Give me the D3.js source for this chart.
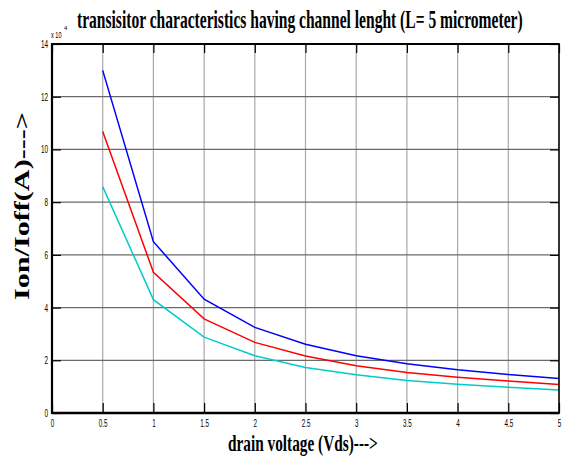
<!DOCTYPE html>
<html>
<head>
<meta charset="utf-8">
<script src="https://cdn.jsdelivr.net/npm/d3@7"></script>
<style>
  html, body { margin: 0; padding: 0; background: #fff; }
  svg { display: block; }
</style>
</head>
<body>
<script>
// ---- data ----
const vds = [0.5, 1, 1.5, 2, 2.5, 3, 3.5, 4, 4.5, 5];
const blueSeries = [13.0, 6.5, 4.32, 3.25, 2.61, 2.17, 1.87, 1.64, 1.46, 1.31];
const redSeries  = [10.68, 5.34, 3.57, 2.68, 2.16, 1.79, 1.54, 1.36, 1.21, 1.08];
const cyanSeries = [8.59, 4.3, 2.88, 2.17, 1.73, 1.45, 1.23, 1.09, 0.98, 0.87];
const xTicks = [0, 0.5, 1, 1.5, 2, 2.5, 3, 3.5, 4, 4.5, 5];
const xTickLabels = ["0", "0.5", "1", "1.5", "2", "2.5", "3", "3.5", "4", "4.5", "5"];
const yTicks = [0, 2, 4, 6, 8, 10, 12, 14];
const yTickLabels = ["0", "2", "4", "6", "8", "10", "12", "14"];
const titleText = "transisitor characteristics having channel lenght (L= 5 micrometer)";
const xLabelText = "drain voltage (Vds)--->";
const yLabelText = "Ion/Ioff(A)--->";

const W = 564, H = 466;
const pL = 52, pR = 559, pT = 44, pB = 413;

const svg = d3.select("body").append("svg").attr("width", W).attr("height", H);
svg.append("rect").attr("width", W).attr("height", H).attr("fill", "#fff");

const x = d3.scaleLinear().domain([0, 5]).range([pL, pR]);
const y = d3.scaleLinear().domain([0, 14]).range([pB, pT]);

// grid
svg.append("g").selectAll("line").data(xTicks.slice(1, -1)).join("line")
  .attr("x1", d => x(d)).attr("x2", d => x(d))
  .attr("y1", pT).attr("y2", pB)
  .attr("stroke", "#a8a8a8").attr("stroke-width", 1.2);
svg.append("g").selectAll("line").data(yTicks.slice(1, -1)).join("line")
  .attr("x1", pL).attr("x2", pR)
  .attr("y1", d => y(d)).attr("y2", d => y(d))
  .attr("stroke", "#6a6a6a").attr("stroke-width", 1.3);

// series
const line = d3.line().x(d => x(d[0])).y(d => y(d[1]));
const series = [
  { vals: blueSeries, color: "#0000ff" },
  { vals: redSeries, color: "#ff0000" },
  { vals: cyanSeries, color: "#00cccc" }
];
svg.append("g").selectAll("path").data(series).join("path")
  .attr("d", s => line(vds.map((v, i) => [v, s.vals[i]])))
  .attr("fill", "none")
  .attr("stroke", s => s.color)
  .attr("stroke-width", 1.5);

// axes
const tickFont = "Liberation Sans, Arial, sans-serif";
const gB = svg.append("g").attr("transform", `translate(0,${pB})`)
  .call(d3.axisBottom(x).tickValues(xTicks).tickFormat((d, i) => xTickLabels[i]).tickSizeInner(-10).tickSizeOuter(0));
gB.selectAll("text")
  .attr("y", 0).attr("dy", "0.71em")
  .attr("transform", "translate(0,7) scale(0.6,1)")
  .attr("font-family", tickFont).attr("font-size", 10.5).attr("fill", "#000");

const gT = svg.append("g").attr("transform", `translate(0,${pT})`)
  .call(d3.axisTop(x).tickValues(xTicks).tickFormat("").tickSizeInner(-9).tickSizeOuter(0));

const gL = svg.append("g").attr("transform", `translate(${pL},0)`)
  .call(d3.axisLeft(y).tickValues(yTicks).tickFormat((d, i) => yTickLabels[i]).tickSizeInner(-9).tickSizeOuter(0));
gL.selectAll("text")
  .attr("x", 0)
  .attr("transform", "translate(-4,0) scale(0.58,1)")
  .attr("font-family", tickFont).attr("font-size", 11).attr("fill", "#000");

const gR = svg.append("g").attr("transform", `translate(${pR},0)`)
  .call(d3.axisRight(y).tickValues(yTicks).tickFormat("").tickSizeInner(-9).tickSizeOuter(0));

[gB, gT, gL, gR].forEach(g => {
  g.select(".domain").remove();
  g.selectAll(".tick line").attr("stroke", "#000").attr("stroke-width", 1.2);
});

// frame
svg.append("line").attr("x1", pL).attr("x2", pR).attr("y1", pB).attr("y2", pB)
  .attr("stroke", "#000").attr("stroke-width", 2.6);
svg.append("line").attr("x1", pL).attr("x2", pR).attr("y1", pT).attr("y2", pT)
  .attr("stroke", "#000").attr("stroke-width", 2);
svg.append("line").attr("x1", pL).attr("x2", pL).attr("y1", pT - 1).attr("y2", pB + 1)
  .attr("stroke", "#000").attr("stroke-width", 2.2);
svg.append("line").attr("x1", pR).attr("x2", pR).attr("y1", pT - 1).attr("y2", pB + 1)
  .attr("stroke", "#000").attr("stroke-width", 1.6);

// exponent
svg.append("text").attr("transform", "translate(51,38) scale(0.62,1)")
  .attr("font-family", tickFont).attr("font-size", 9)
  .text("x 10");
svg.append("text").attr("x", 64).attr("y", 30)
  .attr("font-family", tickFont).attr("font-size", 6)
  .text("4");

// horizontally compressed text helper
function fitText(str, size, targetLen, place, sy) {
  const t = svg.append("text")
    .attr("font-family", "Liberation Serif, Times New Roman, serif")
    .attr("font-weight", "bold").attr("font-size", size)
    .text(str);
  const natural = t.node().getComputedTextLength();
  const s = targetLen / natural;
  t.attr("transform", `${place} scale(${s},${sy || 1})`);
  return t;
}

// title
fitText(titleText, 26, 446, "translate(77,28)");
// x label
fitText(xLabelText, 21, 150, "translate(228,451)", 1.1);
// y label
fitText(yLabelText, 20, 188, "translate(29,300) rotate(-90)");
</script>
</body>
</html>
